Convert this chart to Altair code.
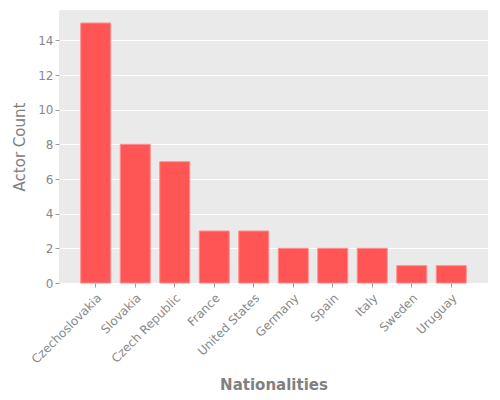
import altair as alt
import pandas as pd

nationalities = [
    "Czechoslovakia", "Slovakia", "Czech Republic", "France", "United States",
    "Germany", "Spain", "Italy", "Sweden", "Uruguay",
]
actor_counts = [15, 8, 7, 3, 3, 2, 2, 2, 1, 1]

df = pd.DataFrame({"nationality": nationalities, "count": actor_counts})

chart = alt.Chart(df).mark_bar(
    color="#FF5555",
    stroke="#FF9090",
    strokeWidth=1,
).encode(
    x=alt.X(
        "nationality:N",
        sort=nationalities,
        scale=alt.Scale(paddingInner=0.24, paddingOuter=0.55),
        axis=alt.Axis(
            title="Nationalities",
            labelAngle=-45,
            labelAlign="right",
            labelBaseline="top",
            labelPadding=5,
            titlePadding=12,
            titleFontSize=15,
        ),
    ),
    y=alt.Y(
        "count:Q",
        scale=alt.Scale(domain=[0, 15.75], nice=False),
        axis=alt.Axis(
            title="Actor Count",
            values=[0, 2, 4, 6, 8, 10, 12, 14],
            titleFontWeight="normal",
            titleFontSize=15,
            titlePadding=10,
        ),
    ),
).properties(
    width=429,
    height=273,
    autosize=alt.AutoSizeParams(type="none"),
    padding={"left": 51, "top": 2, "right": 4, "bottom": 115},
).configure_view(
    fill="#EAEAEA",
    stroke=None,
).configure_axis(
    labelFont="DejaVu Sans",
    titleFont="DejaVu Sans",
    labelColor="#888888",
    titleColor="#808080",
    labelFontSize=12,
    titleFontSize=14,
    domain=False,
    tickColor="#999999",
    tickSize=4,
    grid=True,
    gridColor="#FFFFFF",
    gridWidth=1,
).configure_axisX(
    grid=False,
    titleFontWeight="bold",
)

chart.save("out.html", embed_options={"renderer": "svg", "actions": False})
